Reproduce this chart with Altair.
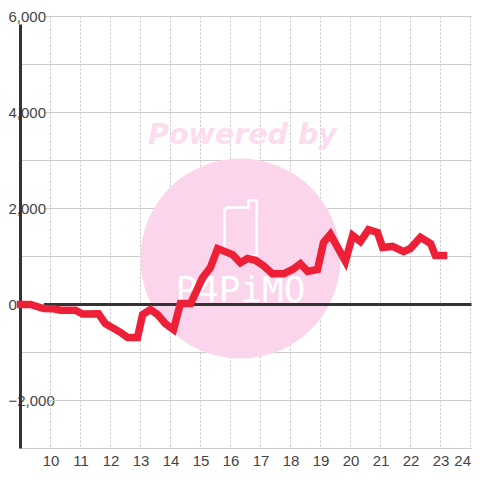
import altair as alt
import pandas as pd

line_x = [9.0,9.33,9.77,10.1,10.33,10.83,11.07,11.6,11.83,12.33,12.57,12.9,13.07,13.33,13.57,13.83,14.1,14.33,14.67,14.83,15.07,15.33,15.57,16.07,16.33,16.57,16.83,17.1,17.4,17.77,18.07,18.33,18.57,18.9,19.1,19.33,19.83,20.07,20.33,20.6,20.9,21.07,21.4,21.77,22.0,22.33,22.67,22.83,23.1]
line_y = [0,0,-83,-90,-120,-120,-200,-195,-400,-580,-690,-690,-210,-105,-210,-400,-520,20,20,230,560,770,1165,1040,870,960,920,810,640,640,730,850,690,730,1290,1460,900,1440,1310,1560,1500,1190,1210,1100,1170,1400,1270,1020,1020]

x_ticks = [10,11,12,13,14,15,16,17,18,19,20,21,22,23,24]
y_label_values = [6000,4000,2000,0,-2000]
grid_y = [6000,5000,4000,3000,2000,1000,-1000,-2000,-3000]
grid_start = [9.85,9,9.85,9,9.85,9,9,9.95,9]

phone_x = [15.8,15.8,15.87,16.6,16.6,16.87,16.87,16.6]
phone_y = [1190,1960,2020,2020,2167,2167,1020,1020]

XMAX = 24.0333
X = alt.Scale(domain=[9, XMAX], nice=False, zero=False)
Y = alt.Scale(domain=[-3000, 6000], nice=False, zero=False)
INK = "#333333"
LABEL = "#444444"
FONT = "Liberation Sans"
PINK = "#fbd5ec"

lines = pd.DataFrame({"x": line_x, "y": line_y})
grid = pd.DataFrame({"y": grid_y, "x": grid_start, "x2": [XMAX]*len(grid_y)})
vgrid = pd.DataFrame({"x": x_ticks})
phone = pd.DataFrame({"x": phone_x, "y": phone_y, "o": list(range(len(phone_x)))})

x_axis = alt.Axis(values=x_ticks, grid=False, domain=False, ticks=False, labelFontSize=15,
                  labelColor=LABEL, labelFont=FONT, labelPadding=5, labelFlush=False,
                  labelAlign={"condition": {"test": "datum.value == 24", "value": "right"}, "value": "center"},
                  title=None)
y_axis = alt.Axis(values=y_label_values, grid=False, domain=False, ticks=False, labelFontSize=15,
                  labelColor=LABEL, labelFont=FONT, labelAlign="left", labelPadding=12.5,
                  labelBaseline="middle", format=",.0f", title=None)
xe = alt.X("x:Q", scale=X, axis=x_axis)
ye = alt.Y("y:Q", scale=Y, axis=y_axis)

v = alt.Chart(vgrid).mark_rule(color="#c4c4c4", strokeWidth=1, strokeDash=[2, 2]).encode(x=xe)
h = alt.Chart(grid).mark_rule(color="#cccccc", strokeWidth=1).encode(x=xe, x2="x2:Q", y=ye)

circle = alt.Chart(pd.DataFrame({"x": [16.33], "y": [958]})).mark_point(
    shape="circle", filled=True, color=PINK, opacity=1, size=40000
).encode(x=xe, y=ye)
powered = alt.Chart(pd.DataFrame({"x": [16.4], "y": [3540], "t": ["Powered by"]})).mark_text(
    font="DejaVu Sans", fontSize=28.5, fontWeight="bold", fontStyle="italic", color="#fcdcef",
    align="center", baseline="middle"
).encode(x=xe, y=ye, text="t:N")
phone_mark = alt.Chart(phone).mark_line(color="white", strokeWidth=2.5, strokeCap="round").encode(
    x=xe, y=ye, order="o:Q")
logo = alt.Chart(pd.DataFrame({"x": [16.33], "y": [290], "t": ["P4PiMO"]})).mark_text(
    font="DejaVu Sans Mono", fontSize=36, color="white", align="center", baseline="middle"
).encode(x=xe, y=ye, text="t:N")

zero = alt.Chart(pd.DataFrame({"y": [0], "x": [9.78], "x2": [XMAX]})).mark_rule(color=INK, strokeWidth=3).encode(
    x=xe, x2="x2:Q", y=ye)
yline = alt.Chart(pd.DataFrame({"x": [9], "y": [-3000], "y2": [5833]})).mark_rule(color=INK, strokeWidth=3).encode(
    x=xe, y=ye, y2="y2:Q")
line = alt.Chart(lines).mark_line(color="#ee2038", strokeWidth=7.5, strokeCap="square").encode(
    x=xe, y=ye, order=alt.Order("x:Q"))

chart = alt.layer(v, h, circle, powered, phone_mark, logo, zero, yline, line).properties(
    width=451, height=432,
    padding={"left": 12.5, "top": 8.5, "right": 0, "bottom": 24},
    autosize=alt.AutoSizeParams(type="none"),
).configure_view(stroke=None)

chart.save("out.html", embed_options={"renderer": "svg", "actions": False})
